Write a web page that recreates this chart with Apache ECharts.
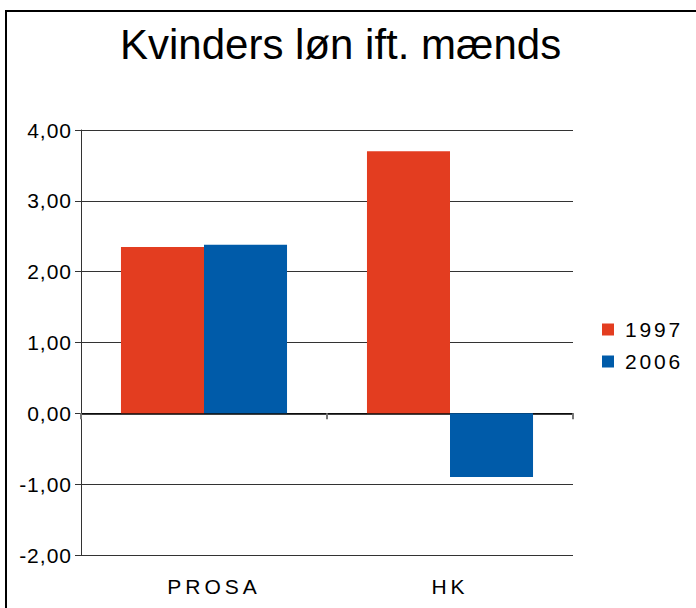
<!DOCTYPE html>
<html><head><meta charset="utf-8">
<script src="https://cdn.jsdelivr.net/npm/echarts@6/dist/echarts.min.js"></script>
<style>
html,body{margin:0;padding:0;background:#fff}
#c{width:696px;height:608px}
text[style*="ttl"]{letter-spacing:0px}
text[style*="ylab"]{letter-spacing:1px}
text[style*="xlab"]{letter-spacing:4px}
text[style*="lglab"]{letter-spacing:2.8px}
</style>
</head><body>
<div id="c"></div>
<script>
var categories = ['PROSA', 'HK'];
var seriesNames = ['1997', '2006'];
var values1997 = [2.35, 3.70];
var values2006 = [2.38, -0.90];
var yMin = -2, yMax = 4, yStep = 1;

var labelCats = categories.map(function (c, i) {
  return i === 0 ? {value: c, textStyle: {padding: [0, 0, 0, 20]}} : c;
});

var chart = echarts.init(document.getElementById('c'), null, {renderer: 'svg'});
chart.setOption({
  animation: false,
  backgroundColor: '#fff',
  title: {
    text: 'Kvinders løn ift. mænds',
    left: 115, top: 18,
    textStyle: {fontFamily: 'Liberation Sans, ttl', fontSize: 42, fontWeight: 'normal', color: '#000'}
  },
  graphic: [{
    type: 'rect', shape: {x: 6, y: 11, width: 720, height: 640},
    style: {fill: 'none', stroke: '#000', lineWidth: 2}, silent: true
  }],
  legend: {
    orient: 'vertical', left: 597, top: 314, itemGap: 11,
    itemWidth: 12, itemHeight: 12, icon: 'rect',
    data: seriesNames,
    textStyle: {fontFamily: 'Liberation Sans, lglab', fontSize: 21, color: '#000', padding: [0, 0, 0, 6]}
  },
  grid: {left: 81, right: 123, top: 130, bottom: 53, containLabel: false},
  xAxis: [{
    type: 'category', data: categories,
    axisLine: {show: true, onZero: true, lineStyle: {color: '#000', width: 1.5}},
    axisTick: {show: true, length: 6, lineStyle: {color: '#777', width: 2}},
    axisLabel: {show: false},
    splitLine: {show: false}
  }, {
    type: 'category', data: labelCats, position: 'bottom',
    axisLine: {show: false, onZero: false}, axisTick: {show: false},
    axisLabel: {show: true, margin: 21, fontFamily: 'Liberation Sans, xlab', fontSize: 21, color: '#000'},
    splitLine: {show: false}
  }],
  yAxis: {
    type: 'value', min: yMin, max: yMax, interval: yStep,
    axisLine: {show: true, lineStyle: {color: '#333', width: 1}},
    axisTick: {show: true, length: 6, lineStyle: {color: '#333'}},
    axisLabel: {margin: 9, fontFamily: 'Liberation Sans, ylab', fontSize: 21, color: '#000',
      formatter: function (v) { return v.toFixed(2).replace('.', ','); }},
    splitLine: {show: true, lineStyle: {color: '#333', width: 1}}
  },
  series: [{
    name: seriesNames[0], type: 'bar', data: values1997, xAxisIndex: 0,
    barGap: '0%', barCategoryGap: '32.5%',
    itemStyle: {color: '#E33D20'}
  }, {
    name: seriesNames[1], type: 'bar', data: values2006, xAxisIndex: 0,
    barGap: '0%', barCategoryGap: '32.5%',
    itemStyle: {color: '#005BA9'}
  }]
});
</script>
</body></html>
